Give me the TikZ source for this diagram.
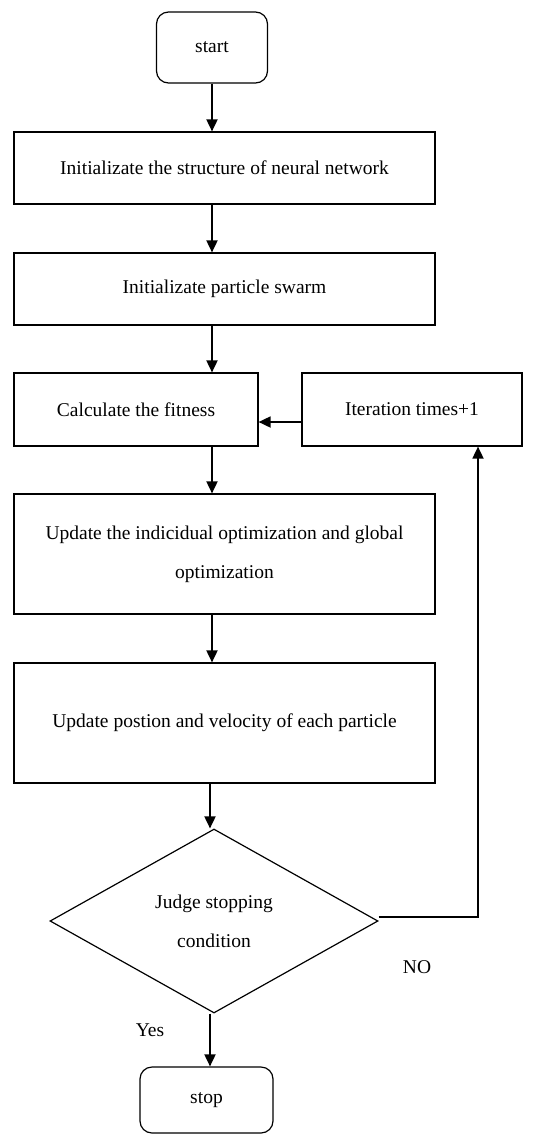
\documentclass[tikz,border=0pt]{standalone}
\usepackage{fontspec}
\setmainfont{Liberation Serif}
\usetikzlibrary{arrows.meta, shapes.geometric, positioning}

\begin{document}
\begin{tikzpicture}[x=1pt, y=-1pt,
	font=\fontsize{19.5}{39}\selectfont,
	box/.style={draw, line width=1.2pt, inner sep=0pt, align=center},
	term/.style={box, rounded corners=12pt},
	decide/.style={draw, line width=1.2pt, diamond, inner sep=0pt, align=center, minimum width=328pt, minimum height=184pt},
	flow/.style={line width=1.8pt, -{Triangle[length=12pt, width=11pt]}}]
	\def\W{421}
	\def\H{72}

	\useasboundingbox (0,0) rectangle (542,1136);

	\node[term, minimum width=111pt, minimum height=71pt]	(start) at (212,47.5) {start};
	\node[box, minimum width=\W pt, minimum height=\H pt]	(init) at (224.5,168) {Initializate the structure of neural network};
	\node[box, minimum width=\W pt, minimum height=\H pt]	(swarm) at (224.5,289) {Initializate particle swarm};
	\node[box, minimum width=244pt, minimum height=73pt]	(fit) at (136,409.5) {Calculate the fitness};
	\node[box, minimum width=220pt, minimum height=73pt]	(iter) at (412,409.5) {Iteration times+1};
	\node[box, minimum width=\W pt, minimum height=120pt]	(best) at (224.5,554) {Update the indicidual optimization and global\\optimization};
	\node[box, minimum width=\W pt, minimum height=120pt]	(move) at (224.5,723) {Update postion and velocity of each particle};
	\node[decide]	(judge) at (214,921) {Judge stopping\\condition};
	\node[term, minimum width=133pt, minimum height=66pt]	(stop) at (206.5,1100) {stop};

	\node	(no) at (417,967) {NO};
	\node	(yes) at (150,1030) {Yes};

	\draw[flow]	(start) -- (start |- init.north);
	\draw[flow]	(init.south -| start) -- (swarm.north -| start);
	\draw[flow]	(swarm.south -| start) -- (fit.north -| start);
	\draw[flow]	(fit.south -| start) -- (best.north -| start);
	\draw[flow]	(best.south -| start) -- (move.north -| start);
	\draw[flow]	([xshift=-2pt]move.south -| start) -- ([xshift=-2pt]judge.north -| start);
	\draw[flow]	([xshift=-2pt]judge.south -| start) -- ([xshift=-2pt]stop.north -| start);

	\draw[flow]	([yshift=-12.5pt]iter.west) -- ([yshift=-12.5pt]fit.east);
	\draw[flow]	([yshift=4pt]judge.east) -| ([xshift=66pt]iter.south);
\end{tikzpicture}
\end{document}
